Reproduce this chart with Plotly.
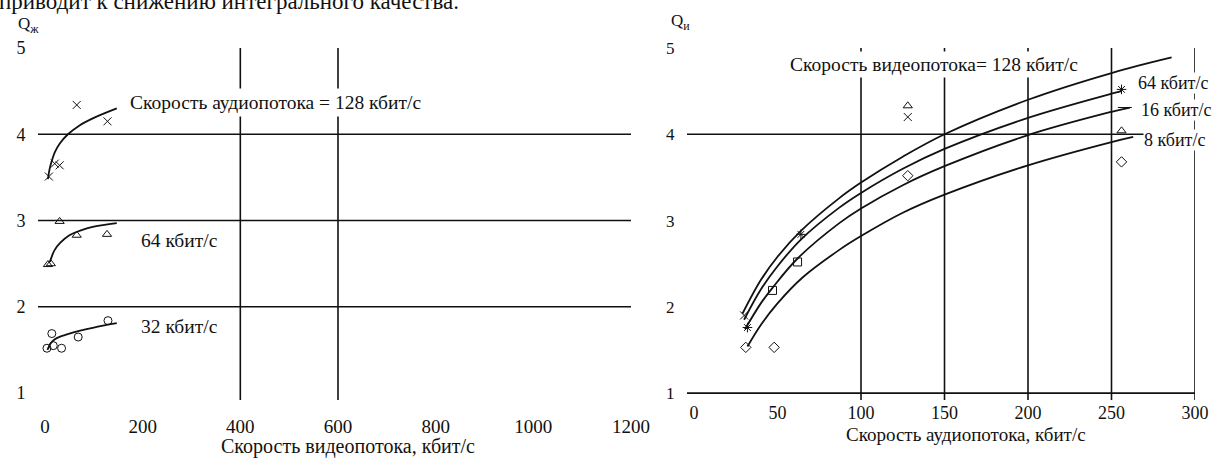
import plotly.graph_objects as go

W, H = 1216, 459
FONT = "Liberation Serif"
INK = "#111111"

# ---------------- left chart data (x: video rate, kbit/s) ----------------
left_xticks = [0, 200, 400, 600, 800, 1000, 1200]
left_yticks = [1, 2, 3, 4, 5]
left_vgrid = [400, 600]
left_hgrid = [2, 3, 4]

a128_curve_x = [6, 10, 15, 20, 30, 47, 70, 100, 147]
a128_curve_y = [3.48, 3.61, 3.71, 3.79, 3.89, 4.00, 4.10, 4.19, 4.30]
a128_pts_x = [8, 20, 30, 65, 128]
a128_pts_y = [3.51, 3.66, 3.64, 4.34, 4.15]

a64_curve_x = [10, 15, 20, 31, 50, 75, 100, 147]
a64_curve_y = [2.52, 2.60, 2.66, 2.74, 2.83, 2.89, 2.93, 2.97]
a64_pts_x = [6, 12, 30, 65, 127]
a64_pts_y = [2.49, 2.50, 2.99, 2.83, 2.84]

a32_curve_x = [5, 10, 15, 25, 45, 70, 100, 147]
a32_curve_y = [1.50, 1.56, 1.60, 1.64, 1.68, 1.72, 1.76, 1.81]
a32_pts_x = [4, 14, 17, 34, 68, 129]
a32_pts_y = [1.52, 1.69, 1.55, 1.52, 1.65, 1.84]

# ---------------- right chart data (x: audio rate, kbit/s) ----------------
right_xticks = [0, 50, 100, 150, 200, 250, 300]
right_yticks = [1, 2, 3, 4, 5]
right_vgrid = [100, 150, 200, 250, 300]
right_hgrid = [4]

v128_curve_x = [29, 40, 50, 64, 87, 100, 125, 150, 200, 250, 286]
v128_curve_y = [1.92, 2.31, 2.58, 2.88, 3.26, 3.44, 3.74, 4.00, 4.40, 4.71, 4.89]
v64_curve_x = [30, 40, 50, 64, 87, 100, 125, 150, 200, 250, 256]
v64_curve_y = [1.85, 2.20, 2.47, 2.78, 3.15, 3.32, 3.60, 3.83, 4.19, 4.47, 4.50]
v16_curve_x = [30.5, 40, 47, 62, 87, 100, 125, 150, 200, 250, 261]
v16_curve_y = [1.74, 2.04, 2.22, 2.56, 2.97, 3.14, 3.41, 3.63, 3.99, 4.26, 4.31]
v8_curve_x = [32, 40, 50, 65, 87, 100, 125, 150, 200, 250, 263]
v8_curve_y = [1.54, 1.79, 2.04, 2.34, 2.66, 2.82, 3.09, 3.30, 3.64, 3.91, 3.97]

r_x_pts_x = [30, 128]
r_x_pts_y = [1.90, 4.20]
r_star_pts_x = [32, 64, 256]
r_star_pts_y = [1.76, 2.84, 4.52]
r_tri_pts_x = [128, 256]
r_tri_pts_y = [4.33, 4.04]
r_sq_pts_x = [47, 62]
r_sq_pts_y = [2.19, 2.52]
r_dia_pts_x = [31, 48, 128, 256]
r_dia_pts_y = [1.53, 1.53, 3.52, 3.68]
r_dash_pts_x = [258]
r_dash_pts_y = [4.31]

fig = go.Figure()

def curve(x, y, xa, ya):
    fig.add_trace(go.Scatter(x=x, y=y, mode="lines", xaxis=xa, yaxis=ya,
                             line=dict(color=INK, width=1.8, shape="spline"),
                             showlegend=False, hoverinfo="skip"))

def pts(x, y, xa, ya, symbol, size=8):
    fig.add_trace(go.Scatter(x=x, y=y, mode="markers", xaxis=xa, yaxis=ya,
                             marker=dict(symbol=symbol, size=size, color=INK,
                                         line=dict(color=INK, width=1)),
                             showlegend=False, hoverinfo="skip"))

curve(a128_curve_x, a128_curve_y, "x", "y")
curve(a64_curve_x, a64_curve_y, "x", "y")
curve(a32_curve_x, a32_curve_y, "x", "y")
pts(a128_pts_x, a128_pts_y, "x", "y", "x-thin-open")
pts(a64_pts_x, a64_pts_y, "x", "y", "triangle-up-open")
pts(a32_pts_x, a32_pts_y, "x", "y", "circle-open")

curve(v128_curve_x, v128_curve_y, "x2", "y2")
curve(v64_curve_x, v64_curve_y, "x2", "y2")
curve(v16_curve_x, v16_curve_y, "x2", "y2")
curve(v8_curve_x, v8_curve_y, "x2", "y2")
pts(r_x_pts_x, r_x_pts_y, "x2", "y2", "x-thin-open")
pts(r_star_pts_x, r_star_pts_y, "x2", "y2", "asterisk-open")
pts(r_tri_pts_x, r_tri_pts_y, "x2", "y2", "triangle-up-open")
pts(r_sq_pts_x, r_sq_pts_y, "x2", "y2", "square-open")
pts(r_dia_pts_x, r_dia_pts_y, "x2", "y2", "diamond-open")
pts(r_dash_pts_x, r_dash_pts_y, "x2", "y2", "line-ew-open", 10)

# ---------------- layout ----------------
YR = [0.92, 5.0]
ydom = [1 - 400 / H, 1 - 48 / H]
LXR = [-14.3, 1200]
RXR = [-4.2, 300]

shapes = []
ln = dict(color=INK, width=1.6)
for v in left_hgrid:
    shapes.append(dict(type="line", xref="x", yref="y", x0=LXR[0], x1=LXR[1], y0=v, y1=v, line=ln, layer="below"))
for v in left_vgrid:
    shapes.append(dict(type="line", xref="x", yref="y", x0=v, x1=v, y0=YR[0], y1=YR[1], line=ln, layer="below"))
for v in right_hgrid + [1]:
    shapes.append(dict(type="line", xref="x2", yref="y2", x0=RXR[0], x1=RXR[1], y0=v, y1=v, line=ln, layer="below"))
for v in right_vgrid:
    shapes.append(dict(type="line", xref="x2", yref="y2", x0=v, x1=v, y0=YR[0], y1=YR[1], line=ln, layer="below"))

def tickfont(sz):
    return dict(family=FONT, size=sz, color=INK)

ann = []
def label(text, x, y, xref, yref, size=19.5, xanchor="left", bg=None, yanchor="middle", pad=1):
    d = dict(text=text, x=x, y=y, xref=xref, yref=yref, showarrow=False,
             xanchor=xanchor, yanchor=yanchor, font=dict(family=FONT, size=size, color=INK),
             borderpad=pad)
    if bg:
        d["bgcolor"] = bg
    ann.append(d)

# curve labels
label("Скорость аудиопотока = 128 кбит/с", 165, 4.37, "x", "y", bg="white", pad=3)
label("64 кбит/с", 193, 2.77, "x", "y")
label("32 кбит/с", 193, 1.77, "x", "y")
label("Скорость видеопотока= 128 кбит/с", 55.7, 4.81, "x2", "y2", bg="white", pad=2)
label("64 кбит/с", 265, 4.59, "x2", "y2", size=18, bg="white", pad=0)
label("16 кбит/с", 267, 4.28, "x2", "y2", size=18, bg="white", pad=0)
label("8 кбит/с", 269, 3.93, "x2", "y2", size=18, bg="white", pad=0)

# axis titles
label("Q<sub>ж</sub>", 28 / W, 1 - 25 / H, "paper", "paper", size=17, xanchor="center", pad=0)
label("Q<sub>и</sub>", 680 / W, 1 - 22 / H, "paper", "paper", size=17, xanchor="center", pad=0)
label("Скорость видеопотока, кбит/с", 348 / W, 1 - 446 / H, "paper", "paper", size=20, xanchor="center")
label("Скорость аудиопотока, кбит/с", 966 / W, 1 - 434 / H, "paper", "paper", size=19, xanchor="center", pad=0)

# cut-off running text from the page above the figure
label("приводит к снижению интегрального качества.", -2 / W, 1 - 2 / H, "paper", "paper",
      size=23, xanchor="left", yanchor="middle", pad=0)

fig.update_layout(
    width=W, height=H,
    margin=dict(l=0, r=0, t=0, b=0),
    paper_bgcolor="white", plot_bgcolor="rgba(0,0,0,0)",
    showlegend=False,
    shapes=shapes, annotations=ann,
    xaxis=dict(domain=[38 / W, 631 / W], range=LXR, tickvals=left_xticks,
               showgrid=False, zeroline=False, showline=False, automargin=False,
               ticks="outside", ticklen=9, tickcolor="rgba(0,0,0,0)",
               tickfont=tickfont(19), anchor="y"),
    yaxis=dict(domain=ydom, range=YR, tickvals=left_yticks,
               showgrid=False, zeroline=False, showline=False, automargin=False,
               ticks="outside", ticklen=8, tickcolor="rgba(0,0,0,0)",
               tickfont=tickfont(18), anchor="x"),
    xaxis2=dict(domain=[687 / W, 1195 / W], range=RXR, tickvals=right_xticks,
                showgrid=False, zeroline=False, showline=False, automargin=False,
                ticks="", tickfont=tickfont(18), anchor="y2"),
    yaxis2=dict(domain=ydom, range=YR, tickvals=right_yticks,
                showgrid=False, zeroline=False, showline=False, automargin=False,
                ticks="outside", ticklen=8, tickcolor="rgba(0,0,0,0)",
                tickfont=tickfont(17), anchor="x2"),
)

fig.write_html("out.html", config={"displayModeBar": False},
               post_script="document.body.style.margin='0px';")
